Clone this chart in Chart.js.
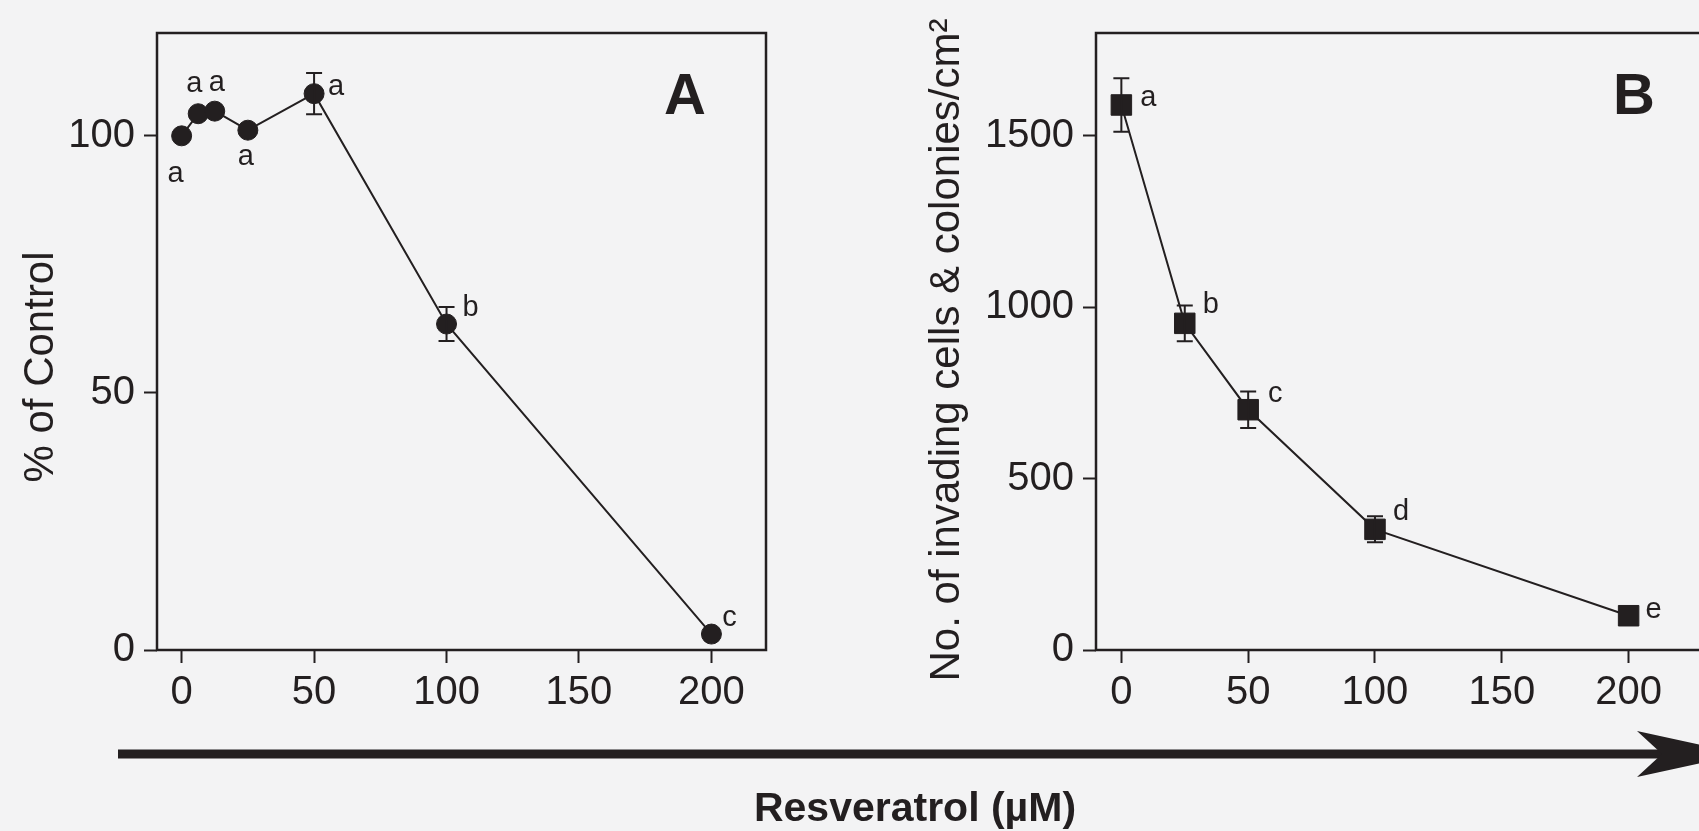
<!DOCTYPE html>
<html><head><meta charset="utf-8">
<script src="https://cdn.jsdelivr.net/npm/chart.js@4.4.0/dist/chart.umd.min.js"></script>
<style>
html,body{margin:0;padding:0;width:1699px;height:831px;overflow:hidden;background:#f3f3f4;}
#cA{position:absolute;left:0;top:0;}
#cB{position:absolute;left:850px;top:0;}
#arrow{position:absolute;left:0;top:0;}
#xtitle{position:absolute;left:615px;top:787px;width:600px;text-align:center;font:bold 41px 'Liberation Sans',Arial,Helvetica,sans-serif;line-height:41px;color:#231f20;white-space:nowrap;}
</style></head><body>
<canvas id="cA" width="800" height="831"></canvas>
<canvas id="cB" width="900" height="831"></canvas>
<svg id="arrow" width="1699" height="831">
  <line x1="118" y1="754" x2="1664" y2="754" stroke="#231f20" stroke-width="9"/>
  <polygon points="1742,754 1637,731 1662,754 1637,777" fill="#231f20"/>
</svg>
<div id="xtitle">Resveratrol (µM)</div>
<script>
// ---- data ----
const xTickValues = [0, 50, 100, 150, 200];

const concA = [0, 6.25, 12.5, 25, 50, 100, 200];
const pctControlA = [100, 104.3, 104.8, 101.1, 108.2, 63.4, 3.1];
const errA = [0, 0, 0, 0, 4, 3.3, 0];
const lettersA = ['a', 'a', 'a', 'a', 'a', 'b', 'c'];
const yTickValuesA = [0, 50, 100];

const concB = [0, 25, 50, 100, 200];
const invasionB = [1590, 953, 701, 352, 100];
const errB = [78, 52, 53, 38, 0];
const lettersB = ['a', 'b', 'c', 'd', 'e'];
const yTickValuesB = [0, 500, 1000, 1500];

// ---- styling ----
const INK = '#231f20';
const FONT = "'Liberation Sans', Arial, Helvetica, sans-serif";
const letterOffsetsA = [[-6, 38], [-4, -30], [2, -28], [-2, 27], [22, -7], [24, -16], [18, -16]];
const letterOffsetsB = [[27, -7], [26, -18], [27, -16], [26, -17], [25, -6]];

function panelPlugin(cfg) {
  return {
    id: 'panel' + cfg.panel,
    afterDatasetsDraw(chart) {
      const ctx = chart.ctx, a = chart.chartArea, x = chart.scales.x, y = chart.scales.y;
      ctx.save();
      ctx.strokeStyle = INK;
      ctx.lineWidth = 2.5;
      ctx.strokeRect(a.left, a.top, a.right - a.left, a.bottom - a.top);
      ctx.lineWidth = 2;
      const cap = 8;
      cfg.xs.forEach((xv, i) => {
        const e = cfg.err[i];
        if (!e) return;
        const px = x.getPixelForValue(xv);
        const top = y.getPixelForValue(cfg.ys[i] + e);
        const bot = y.getPixelForValue(cfg.ys[i] - e);
        ctx.beginPath();
        ctx.moveTo(px, top); ctx.lineTo(px, bot);
        ctx.moveTo(px - cap, top); ctx.lineTo(px + cap, top);
        ctx.moveTo(px - cap, bot); ctx.lineTo(px + cap, bot);
        ctx.stroke();
      });
      ctx.fillStyle = INK;
      ctx.font = '29px ' + FONT;
      ctx.textAlign = 'center';
      ctx.textBaseline = 'middle';
      cfg.letters.forEach((t, i) => {
        const px = x.getPixelForValue(cfg.xs[i]) + cfg.off[i][0];
        const py = y.getPixelForValue(cfg.ys[i]) + cfg.off[i][1];
        ctx.fillText(t, px, py);
      });
      ctx.font = 'bold 58px ' + FONT;
      ctx.fillText(cfg.panel, cfg.panelPos[0], cfg.panelPos[1]);
      ctx.save();
      ctx.translate(cfg.titlePos[0], cfg.titlePos[1]);
      ctx.rotate(-Math.PI / 2);
      ctx.font = '42px ' + FONT;
      ctx.textBaseline = 'alphabetic';
      ctx.fillText(cfg.ytitle, 0, 0);
      ctx.restore();
      ctx.restore();
    }
  };
}

function makeChart(id, o) {
  const tickFont = { size: 40, family: FONT };
  const gridOpts = { drawOnChartArea: false, drawTicks: true, tickLength: 13, tickWidth: 2, tickColor: INK, color: INK };
  return new Chart(document.getElementById(id), {
    type: 'line',
    data: {
      datasets: [{
        data: o.xs.map((v, i) => ({ x: v, y: o.ys[i] })),
        borderColor: INK,
        borderWidth: 2,
        tension: 0,
        pointStyle: o.pointStyle,
        pointRadius: o.pointRadius,
        pointBackgroundColor: INK,
        pointBorderColor: INK,
        pointBorderWidth: 1,
        clip: false
      }]
    },
    options: {
      responsive: false,
      animation: false,
      devicePixelRatio: 1,
      layout: { padding: { left: 0, right: o.padRight, top: 33, bottom: 81 } },
      plugins: { legend: { display: false }, tooltip: { enabled: false } },
      scales: {
        x: {
          type: 'linear', min: o.xMin, max: o.xMax,
          afterBuildTicks: s => { s.ticks = xTickValues.map(v => ({ value: v })); },
          afterFit: s => { s.height = 100; },
          grid: gridOpts,
          border: { display: false },
          ticks: { font: tickFont, color: INK, padding: 6, maxRotation: 0, autoSkip: false, callback: v => String(v) }
        },
        y: {
          type: 'linear', min: o.yMin, max: o.yMax,
          afterBuildTicks: s => { s.ticks = o.yTicks.map(v => ({ value: v })); },
          afterFit: s => { s.width = o.yWidth; },
          grid: gridOpts,
          border: { display: false },
          ticks: { font: tickFont, color: INK, padding: 9, autoSkip: false, callback: v => String(v) }
        }
      }
    },
    plugins: [o.plugin]
  });
}

makeChart('cA', {
  xs: concA, ys: pctControlA, pointStyle: 'circle', pointRadius: 10,
  xMin: -9.3, xMax: 220.6, yMin: 0, yMax: 120, yTicks: yTickValuesA,
  yWidth: 157, padRight: 34,
  plugin: panelPlugin({ panel: 'A', xs: concA, ys: pctControlA, err: errA, letters: lettersA, off: letterOffsetsA,
    panelPos: [685, 98], titlePos: [53, 367], ytitle: '% of Control' })
});

makeChart('cB', {
  xs: concB, ys: invasionB, pointStyle: 'rect', pointRadius: 14.5,
  xMin: -10, xMax: 230, yMin: 0, yMax: 1800, yTicks: yTickValuesB,
  yWidth: 246, padRight: 45.3,
  plugin: panelPlugin({ panel: 'B', xs: concB, ys: invasionB, err: errB, letters: lettersB, off: letterOffsetsB,
    panelPos: [784, 98], titlePos: [109, 350], ytitle: 'No. of invading cells & colonies/cm²' })
});
</script>
</body></html>
